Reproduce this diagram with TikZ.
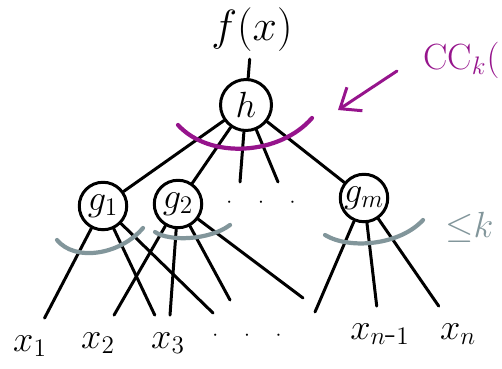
\documentclass[tikz,border=0pt]{standalone}
\usetikzlibrary{arrows.meta}
\definecolor{ccpurple}{RGB}{150,20,140}
\definecolor{cutgrey}{RGB}{130,150,155}
\begin{document}
\begin{tikzpicture}[x=.02cm,y=-.02cm,line width=1.7pt,line cap=round,
  gate/.style={draw,circle,inner sep=0pt,minimum size=.95cm,font=\huge},
  leaf/.style={inner sep=9pt,font=\huge},
  cut/.style={line width=2.4pt,cutgrey}]
\useasboundingbox(0,0)rectangle(502,368);
\node(fx)[font=\Huge]at(252,30){$f(x)$};
\node(h)[gate,minimum size=1.02cm]at(246,105){$h$};
\node(g1)[gate]at(103,206){$g_1$};\node(g2)[gate]at(178,204){$g_2$};\node(gm)[gate]at(364,198){$g_m$};
\node(gdots)[font=\large]at(261,203){$\cdot\quad\cdot\quad\cdot$};
\node(x1)[leaf]at(30,346){$x_1$};\node(x2)[leaf]at(98,343){$x_2$};\node(x3)[leaf]at(168,343){$x_3$};
\node(xdots)[font=\large]at(247,336){$\cdot\quad\cdot\quad\cdot$};
\node(xm)[leaf]at(380,334){$x_{n\mbox{-}1}$};\node(xn)[leaf]at(458,334){$x_n$};
\coordinate(d1)at(240,182);\coordinate(d2)at(278,182);
\coordinate(e1)at(213,313);\coordinate(e2)at(230,300);\coordinate(e3)at(303,298);\coordinate(e4)at(315,312);
\draw(fx)--(h) (h)--(g1) (h)--(g2) (h)--(d1) (h)--(d2) (h)--(gm);
\foreach\a/\b in{g1/x1,g1/x3,g1/e1,g2/x2,g2/x3,g2/e2,g2/e3,gm/e4,gm/xm,gm/xn}{\draw(\a)--(\b);}
% cuts
\draw[line width=2.4pt,ccpurple](178,125)..controls(210,160)and(280,155)..(312,118);
\draw[cut](57,240)..controls(75,262)and(120,255)..(143,228);
\draw[cut](155,232)..controls(170,242)and(210,240)..(230,225);
\draw[cut](325,235)..controls(350,250)and(400,245)..(423,220);
\node(cc)[anchor=west,font=\huge,text=ccpurple,inner sep=1pt]at(420,60){CC$_k($};
\coordinate(ccfrom)at(397,71);\coordinate(cctip)at(338,110);
\draw[ccpurple,-{Straight Barb[length=10pt,width=16pt]}](ccfrom)--(cctip);
\node(le)[anchor=west,font=\huge,text=cutgrey]at(438,227){${\leq}k$};
\end{tikzpicture}
\end{document}
